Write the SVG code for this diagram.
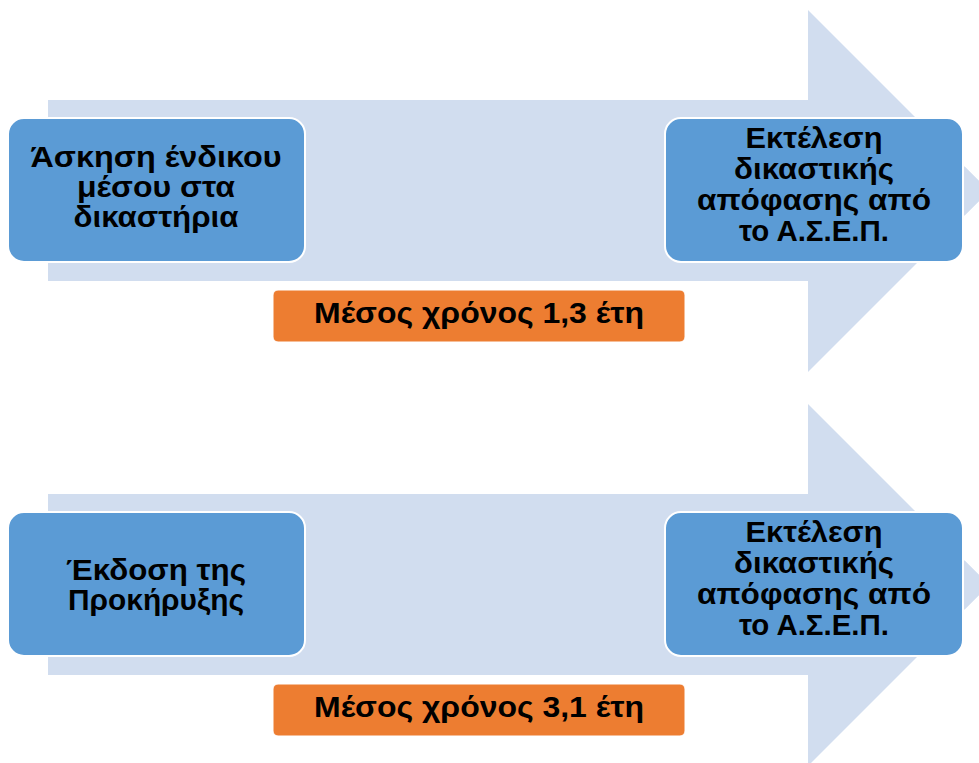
<svg xmlns="http://www.w3.org/2000/svg" width="979" height="763" viewBox="0 0 979 763">
  <style>
    .arrow { fill: #d1ddef; }
    .node { fill: #5b9bd5; stroke: #ffffff; stroke-width: 2; }
    .badge { fill: #ed7d31; stroke: #ffffff; stroke-width: 1; }
    text { font-family: "Liberation Sans", Arial, sans-serif; font-weight: bold; font-size: 29px; fill: #000000; text-anchor: middle; }
  </style>
  <rect width="979" height="763" fill="#ffffff"/>
  <g id="connectors">
    <polygon class="arrow" points="48,100 808,100 808,10 989,191 808,372 808,281 48,281"/>
    <polygon class="arrow" points="965,167 989,191 965,215"/>
    <polygon class="arrow" points="48,494 808,494 808,404 989,585 808,766 808,675 48,675"/>
    <polygon class="arrow" points="965,561 989,585 965,609"/>
  </g>
  <g id="node1">
    <rect class="node" x="8" y="118" width="297" height="144" rx="16"/>
    <text x="156" y="167" textLength="251" lengthAdjust="spacingAndGlyphs">Άσκηση ένδικου</text>
    <text x="156" y="197" textLength="158" lengthAdjust="spacingAndGlyphs">μέσου στα</text>
    <text x="156" y="227" textLength="165" lengthAdjust="spacingAndGlyphs">δικαστήρια</text>
  </g>
  <g id="node2">
    <rect class="node" x="665" y="118" width="298" height="144" rx="16"/>
    <text x="814" y="148" textLength="137" lengthAdjust="spacingAndGlyphs">Εκτέλεση</text>
    <text x="814" y="179" textLength="160" lengthAdjust="spacingAndGlyphs">δικαστικής</text>
    <text x="814" y="210" textLength="234" lengthAdjust="spacingAndGlyphs">απόφασης από</text>
    <text x="814" y="241" textLength="150" lengthAdjust="spacingAndGlyphs">το Α.Σ.Ε.Π.</text>
  </g>
  <g id="badge1">
    <rect class="badge" x="273" y="290" width="412" height="52" rx="5"/>
    <text x="479" y="323" textLength="330" lengthAdjust="spacingAndGlyphs">Μέσος χρόνος 1,3 έτη</text>
  </g>
  <g id="node3">
    <rect class="node" x="8" y="512" width="297" height="144" rx="16"/>
    <text x="156" y="580" textLength="180" lengthAdjust="spacingAndGlyphs">Έκδοση της</text>
    <text x="156" y="610" textLength="176" lengthAdjust="spacingAndGlyphs">Προκήρυξης</text>
  </g>
  <g id="node4">
    <rect class="node" x="665" y="512" width="298" height="144" rx="16"/>
    <text x="814" y="542" textLength="137" lengthAdjust="spacingAndGlyphs">Εκτέλεση</text>
    <text x="814" y="573" textLength="160" lengthAdjust="spacingAndGlyphs">δικαστικής</text>
    <text x="814" y="604" textLength="234" lengthAdjust="spacingAndGlyphs">απόφασης από</text>
    <text x="814" y="635" textLength="150" lengthAdjust="spacingAndGlyphs">το Α.Σ.Ε.Π.</text>
  </g>
  <g id="badge2">
    <rect class="badge" x="273" y="684" width="412" height="52" rx="5"/>
    <text x="479" y="717" textLength="330" lengthAdjust="spacingAndGlyphs">Μέσος χρόνος 3,1 έτη</text>
  </g>
</svg>
